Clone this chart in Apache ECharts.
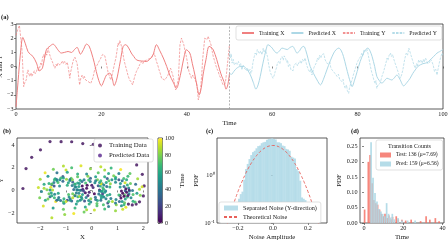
<!DOCTYPE html>
<html>
<head>
<meta charset="utf-8">
<script src="https://cdn.jsdelivr.net/npm/echarts@6.0.0/dist/echarts.min.js"></script>
<style>html,body{margin:0;padding:0;background:#fff}#chart{width:448px;height:252px}</style>
</head>
<body>
<div id="chart"></div>
<script>
// ---- panel (a): time series [time, value] ----
var trainX = [[0,-2.84],[0.5,-1.0],[1.0,0.8],[1.6,2.05],[2.2,1.6],[2.8,1.06],[3.4,0.85],[4.0,0.7],[4.8,0.24],[5.5,-0.3],[6.2,-0.1],[7.1,1.18],[8.0,1.45],[8.7,1.58],[9.3,1.4],[9.8,1.18],[10.6,0.95],[11.4,1.0],[12.2,1.06],[13.0,0.99],[13.7,1.2],[14.3,1.35],[15.1,0.87],[15.8,1.2],[16.5,1.58],[17.1,1.45],[17.7,0.95],[18.3,0.3],[18.8,-0.35],[19.4,-1.0],[20.0,-1.37],[20.6,-1.0],[21.2,-0.6],[22.0,-0.47],[22.5,-0.8],[23.0,-1.35],[23.5,-1.0],[23.9,-0.47],[24.5,0.5],[25.1,1.42],[25.7,1.54],[26.4,1.3],[27.0,0.95],[27.6,0.7],[28.2,0.47],[29.0,0.4],[29.8,0.38],[30.5,0.35],[31.3,0.5],[32.1,0.83],[32.9,1.54],[33.7,1.1],[34.5,0.6],[35.3,0.0],[36.0,-0.6],[36.8,-1.1],[37.6,-1.54],[38.2,-1.0],[38.75,-0.24],[39.3,0.6],[39.9,1.18],[40.7,0.95],[41.3,0.2],[41.9,-0.6],[42.4,-1.4],[42.9,-2.0],[43.4,-1.5],[43.8,-0.6],[44.5,0.5],[45.2,1.42],[45.7,1.35],[46.2,1.18],[47.0,0.5],[47.7,-0.24],[48.2,-0.7],[48.7,-1.06],[49.2,-1.6],[49.6,-1.3],[50.0,-0.5]];
var predX = [[50.0,-0.5],[50.5,-0.55],[51.0,-0.35],[51.7,-0.12],[52.5,0.0],[53.3,0.0],[54.1,-0.2],[54.9,-0.6],[55.6,-1.15],[56.2,-1.6],[56.7,-1.3],[57.2,-0.7],[57.6,-0.1],[58.0,0.47],[58.5,1.1],[59.0,1.54],[59.5,1.45],[60.0,1.3],[60.6,1.05],[61.1,0.95],[61.7,1.1],[62.3,1.3],[62.9,1.25],[63.5,1.2],[64.2,1.35],[64.8,1.42],[65.3,1.2],[65.8,0.95],[66.4,1.1],[66.9,1.35],[67.4,1.42],[67.9,1.1],[68.4,0.55],[68.9,0.0],[69.7,-0.5],[70.5,-0.95],[71.3,-1.3],[72.0,-0.9],[72.8,-0.24],[73.6,0.4],[74.4,0.95],[75.0,1.2],[75.6,1.3],[76.2,1.1],[76.7,0.7],[77.3,0.0],[77.9,-0.7],[78.3,-1.1],[78.7,-1.42],[79.3,-0.95],[79.9,-0.35],[80.6,0.35],[81.4,0.95],[81.9,1.2],[82.4,1.3],[82.9,1.1],[83.4,0.7],[84.0,0.0],[84.5,-0.7],[85.1,-1.0],[85.7,-1.18],[86.3,-1.0],[86.9,-0.83],[87.5,-0.9],[88.0,-0.95],[88.6,-0.8],[89.2,-0.6],[89.9,-0.9],[90.8,-1.37],[91.5,-1.15],[92.3,-0.83],[92.9,-0.5],[93.5,-0.24],[94.1,0.0],[94.7,0.12],[95.3,0.2],[95.9,0.24],[96.5,0.3],[97.0,0.47],[97.8,0.7],[98.6,0.95],[99.2,1.05],[100.0,1.2]];
var trainY = [[0,2.2],[0.4,2.6],[0.8,2.9],[1.1,3.0],[1.4,1.2],[1.8,-1.42],[2.1,-1.1],[2.4,-0.95],[2.6,-0.5],[2.8,-0.24],[3.0,-0.5],[3.2,-0.7],[3.5,-0.45],[3.7,-0.7],[4.0,-0.6],[4.3,-0.3],[4.5,-0.5],[4.8,-0.35],[5.1,-0.05],[5.3,-0.3],[5.5,-0.12],[5.8,0.25],[6.0,0.1],[6.2,0.6],[6.5,0.85],[6.7,0.6],[7.0,1.0],[7.2,0.8],[7.5,1.3],[7.7,1.05],[7.9,0.83],[8.2,0.55],[8.5,0.35],[8.8,0.1],[9.1,-0.12],[9.4,0.15],[9.6,0.0],[9.8,0.24],[10.1,0.35],[10.3,0.1],[10.6,0.12],[10.9,0.4],[11.1,0.2],[11.4,0.35],[11.7,0.15],[12.0,0.3],[12.2,0.0],[12.4,-0.4],[12.6,-0.83],[12.8,-0.4],[13.0,-0.12],[13.3,0.3],[13.5,0.5],[13.8,0.66],[14.0,0.45],[14.3,0.24],[14.6,-0.5],[14.9,-1.3],[15.2,-0.8],[15.5,-0.6],[15.8,-0.85],[16.0,-0.7],[16.3,-0.95],[16.6,-0.85],[16.9,-1.06],[17.2,-0.95],[17.5,-1.2],[17.7,-1.18],[18.0,-0.8],[18.2,-0.55],[18.4,-0.24],[18.7,-0.05],[19.0,0.1],[19.2,0.24],[19.5,0.4],[19.8,0.55],[20.0,0.7],[20.3,0.85],[20.5,0.95],[20.8,0.75],[21.0,0.47],[21.3,0.0],[21.6,-0.47],[21.9,-0.7],[22.2,-0.95],[22.5,-0.6],[22.7,-0.35],[23.0,0.1],[23.4,0.6],[23.7,1.2],[23.9,1.65],[24.1,1.5],[24.3,1.84],[24.6,1.55],[24.8,1.42],[25.0,1.0],[25.2,0.6],[25.5,0.2],[25.9,-0.24],[26.2,-0.6],[26.6,-0.95],[27.0,-1.1],[27.3,-1.3],[27.6,-0.95],[27.8,-0.7],[28.2,-0.35],[28.6,-0.12],[29.0,0.15],[29.4,0.35],[29.7,0.2],[30.0,0.4],[30.2,0.3],[30.6,0.45],[30.9,0.35],[31.2,0.55],[31.5,0.45],[31.7,0.6],[32.0,0.75],[32.3,0.95],[32.6,0.7],[32.9,0.35],[33.2,0.1],[33.5,-0.24],[33.8,-0.5],[34.1,-0.83],[34.5,-0.75],[34.8,-0.95],[35.2,-0.8],[35.6,-0.6],[35.9,-0.35],[36.2,-0.12],[36.5,-0.4],[36.8,-0.7],[37.1,-1.2],[37.4,-1.65],[37.7,-1.3],[38.0,-0.95],[38.2,0.2],[38.4,1.54],[38.6,1.8],[38.75,2.0],[39.0,1.8],[39.3,1.54],[39.6,1.1],[39.9,0.7],[40.2,0.2],[40.5,-0.35],[40.8,-0.6],[41.1,-0.83],[41.4,-0.6],[41.6,-0.7],[41.9,-0.9],[42.3,-1.18],[42.5,-1.7],[42.7,-2.36],[42.9,-2.1],[43.2,-1.65],[43.5,-0.6],[43.7,0.47],[44.0,1.4],[44.2,2.0],[44.5,2.05],[44.7,1.9],[45.0,2.13],[45.2,1.95],[45.4,2.0],[45.7,1.5],[46.0,1.0],[46.2,0.7],[46.6,0.3],[47.0,-0.12],[47.3,-0.3],[47.6,-0.6],[47.9,-0.8],[48.2,-1.06],[48.5,-1.3],[48.7,-1.42],[49.0,-1.2],[49.3,-0.5],[49.6,0.4],[50.0,1.54]];
var predY = [[50.0,1.0],[50.2,0.6],[50.4,0.9],[50.6,0.24],[50.9,0.5],[51.1,0.1],[51.3,0.0],[51.6,0.3],[51.8,0.15],[52.1,0.35],[52.4,0.05],[52.6,0.2],[52.9,-0.24],[53.2,0.1],[53.4,-0.1],[53.7,0.0],[54.0,-0.3],[54.2,-0.1],[54.5,-0.35],[54.8,-0.2],[55.0,-0.5],[55.2,-0.35],[55.5,0.3],[55.8,0.7],[56.0,0.95],[56.3,0.8],[56.5,1.2],[56.8,1.18],[57.0,0.9],[57.3,1.1],[57.6,0.83],[57.9,1.3],[58.1,1.0],[58.4,1.18],[58.7,0.9],[58.9,0.7],[59.2,0.1],[59.5,-0.35],[59.8,-0.6],[60.0,-0.5],[60.2,-0.83],[60.5,-0.6],[60.7,-0.35],[61.0,-0.1],[61.2,0.2],[61.5,0.35],[61.8,0.2],[62.0,0.55],[62.3,0.7],[62.6,0.45],[62.8,0.75],[63.1,0.6],[63.4,0.3],[63.6,0.45],[63.8,0.0],[64.1,0.15],[64.4,-0.24],[64.6,-0.1],[64.9,-0.3],[65.1,0.1],[65.4,0.0],[65.7,0.25],[65.9,0.05],[66.2,0.12],[66.5,0.4],[66.8,0.2],[67.1,0.5],[67.4,0.35],[67.7,0.6],[68.0,0.2],[68.2,0.0],[68.5,-0.24],[68.8,-0.4],[69.0,-0.2],[69.3,-0.6],[69.6,-0.3],[69.8,-0.05],[70.1,0.0],[70.4,0.3],[70.6,0.6],[70.9,0.45],[71.1,0.8],[71.4,0.6],[71.6,0.83],[71.9,0.7],[72.1,0.9],[72.4,0.47],[72.7,0.6],[72.9,0.2],[73.2,0.12],[73.5,0.3],[73.7,-0.05],[74.0,-0.24],[74.3,-0.1],[74.6,-0.45],[74.9,-0.35],[75.2,-0.7],[75.5,-0.55],[75.8,-0.9],[76.0,-0.8],[76.3,-1.06],[76.6,-0.9],[76.8,-1.3],[77.1,-1.54],[77.4,-1.3],[77.6,-1.7],[77.9,-1.9],[78.1,-1.5],[78.4,-1.2],[78.7,-0.95],[79.0,-0.6],[79.2,-0.4],[79.5,-0.12],[79.8,0.2],[80.0,0.1],[80.2,0.47],[80.5,0.35],[80.7,0.7],[81.0,0.95],[81.3,0.8],[81.5,1.2],[81.8,1.3],[82.0,1.05],[82.2,1.2],[82.4,0.95],[82.7,0.5],[83.0,0.0],[83.3,-0.4],[83.6,-0.7],[83.8,-0.95],[84.1,-1.2],[84.3,-1.0],[84.5,-1.54],[84.8,-1.3],[85.0,-1.4],[85.3,-1.18],[85.6,-0.8],[85.8,-0.6],[86.1,-0.35],[86.4,0.0],[86.6,0.2],[86.9,0.6],[87.1,0.45],[87.4,0.8],[87.7,0.95],[87.9,0.7],[88.2,0.85],[88.4,0.6],[88.7,0.3],[88.9,0.4],[89.2,-0.12],[89.5,-0.4],[89.7,-0.3],[90.0,-0.83],[90.3,-0.6],[90.6,-0.24],[90.9,0.3],[91.1,0.6],[91.4,0.95],[91.7,0.8],[92.0,1.3],[92.2,1.1],[92.5,0.8],[92.7,0.6],[93.0,0.3],[93.2,0.1],[93.5,-0.12],[93.8,0.2],[94.0,0.0],[94.3,0.47],[94.6,0.3],[94.8,0.45],[95.1,0.24],[95.4,0.5],[95.6,0.3],[95.9,0.6],[96.2,0.4],[96.4,0.2],[96.6,0.12],[96.9,0.3],[97.1,0.5],[97.4,0.35],[97.7,0.1],[98.0,-0.35],[98.3,-0.2],[98.6,-0.6],[98.9,-0.1],[99.2,0.35],[99.5,0.7],[99.8,0.95],[100.0,0.8]];
var splitTime = 50;

// ---- panel (b): phase-space scatter [x, y] and [x, y, time] ----
var trainingPts = [[-2.67,0.17],[-2.55,1.92],[-2.33,2.91],[-1.99,3.57],[-1.62,4.30],[-1.19,4.29],[-0.78,4.28],[-0.35,4.12],[0.06,4.05],[0.47,3.86],[0.87,3.6],[1.2,3.2],[1.47,2.74],[1.74,2.24],[1.96,1.42],[2.03,0.40],[2.00,-0.48],[1.85,-1.00],[1.72,-1.20],[1.57,-1.27],[1.42,-1.20]];
var predictedPts = [
  [-0.70,0.08,34],[-0.76,0.44,42],[-0.91,0.68,58],[-1.12,0.82,33],[-1.31,0.69,71],[-1.46,0.40,25],[-1.52,0.03,88],[-1.44,-0.34,47],[-1.28,-0.62,38],[-1.08,-0.72,63],[-0.88,-0.58,49],[-0.74,-0.30,77],
  [-0.61,0.31,52],[-0.74,0.74,30],[-0.98,0.99,84],[-1.24,0.95,46],[-1.47,0.70,41],[-1.59,0.28,95],[-1.57,-0.22,56],[-1.45,-0.64,68],[-1.21,-0.89,37],[-0.95,-0.86,22],[-0.74,-0.64,90],[-0.60,-0.22,44],
  [-0.47,0.02,61],[-0.55,0.66,59],[-0.80,1.07,73],[-1.12,1.22,28],[-1.42,1.03,55],[-1.66,0.61,64],[-1.74,0.07,80],[-1.62,-0.55,33],[-1.40,-0.97,99],[-1.08,-1.12,50],[-0.78,-0.93,34],[-0.54,-0.55,66],
  [-0.66,0.55,45],[-0.85,0.88,52],[-1.35,0.86,60],[-1.55,0.52,28],[-1.66,-0.30,75],[-1.30,-0.80,48],[-0.84,-0.75,39],[-0.66,-0.45,85],[-1.20,1.10,67],[-1.00,-0.98,92],
  [-0.58,0.05,48],[-0.65,0.57,66],[-0.84,0.96,39],[-1.10,1.10,57],[-1.36,0.96,44],[-1.55,0.57,72],[-1.62,0.05,51],[-1.55,-0.47,60],[-1.36,-0.86,36],[-1.10,-1.00,70],[-0.84,-0.86,53],[-0.65,-0.47,42],
  [0.30,0.05,5],[0.25,0.42,26],[0.12,0.68,48],[-0.06,0.78,41],[-0.24,0.66,70],[-0.37,0.40,2],[-0.42,0.02,36],[-0.36,-0.35,57],[-0.22,-0.62,45],[-0.04,-0.72,82],[0.14,-0.60,39],[0.27,-0.32,40],
  [0.46,0.10,65],[0.40,0.60,50],[0.22,0.95,78],[-0.05,1.08,31],[-0.30,0.95,44],[-0.48,0.62,53],[-0.55,0.06,43],[-0.47,-0.52,86],[-0.28,-0.92,24],[-0.04,-1.02,47],[0.22,-0.88,60],[0.42,-0.50,57],
  [0.38,-0.10,50],[0.33,0.40,61],[0.15,0.85,44],[-0.12,0.92,68],[-0.38,0.78,37],[-0.50,0.35,55],[-0.50,-0.25,46],[-0.38,-0.75,63],[-0.12,-0.88,52],[0.15,-0.80,40],[0.35,-0.45,57],
  [-0.20,0.20,3],[-0.10,-0.15,8],[0.05,0.25,12],[-0.25,-0.20,5],[0.10,-0.30,1],[-0.35,0.10,10],[0.00,0.45,6],[-0.15,-0.45,14],[-0.32,-0.05,22],[-0.18,0.45,2],
  [1.30,-0.02,29],[1.25,0.35,36],[1.11,0.62,54],[0.92,0.72,48],[0.72,0.60,83],[0.58,0.34,35],[0.54,-0.05,44],[0.60,-0.42,62],[0.74,-0.70,41],[0.94,-0.80,46],[1.13,-0.66,2],[1.27,-0.40,74],
  [1.43,0.22,46],[1.29,0.68,93],[1.05,0.93,27],[0.78,0.94,51],[0.56,0.70,58],[0.43,0.24,69],[0.42,-0.30,21],[0.55,-0.72,43],[0.80,-0.98,87],[1.07,-0.97,33],[1.30,-0.75,58],[1.44,-0.32,42],
  [1.58,0.00,40],[1.50,0.62,76],[1.24,1.05,69],[0.92,1.17,64],[0.60,1.04,30],[0.36,0.58,97],[0.30,-0.05,45],[0.37,-0.66,56],[0.62,-1.10,23],[0.95,-1.25,81],[1.27,-1.08,76],[1.52,-0.64,48],
  [1.46,-0.05,47],[1.38,0.47,62],[1.18,0.86,38],[0.92,1.00,55],[0.66,0.86,71],[0.47,0.47,45],[0.40,-0.05,58],[0.47,-0.57,49],[0.66,-0.96,67],[0.92,-1.10,41],[1.18,-0.96,53],[1.38,-0.57,64],
  [1.20,-0.25,1],[1.35,-0.15,4],[1.25,-0.50,2],[1.40,-0.45,7],[1.15,-0.05,3],[1.45,0.05,9],[1.32,0.15,5],[1.10,-0.45,8],
  [-0.45,0.90,58],[-0.45,-0.85,47],[0.35,0.85,66],[0.35,-0.85,38],[-0.55,1.20,74],[0.50,1.20,62],[-0.60,-1.20,55],[0.45,-1.25,70],
  [-0.95,0.45,62],[-1.25,0.40,49],[-1.30,-0.25,58],[-0.90,-0.35,71],[-0.75,0.95,80],[-1.45,0.95,65],[-1.70,-0.75,77],[-0.55,-0.95,59],
  [0.70,0.30,63],[1.10,0.30,52],[1.05,-0.40,68],[0.70,-0.35,57],[0.85,1.30,79],[1.35,0.95,61],[1.60,-0.35,72],[1.25,-1.25,66],
  [-0.15,1.25,81],[0.15,1.20,56],[-0.10,-1.20,64],[0.20,-1.15,73],[-0.65,0.30,46],[0.50,-0.15,54],[-0.40,-0.60,49],[0.30,0.70,60],
  [-1.85,0.20,87],[1.85,0.10,88],[-1.00,1.80,91],[0.50,1.80,85],[-0.20,-1.70,86],[1.20,-1.65,92],
  [-2.07,0.25,92],[-2.00,0.98,85],[-1.81,1.56,97],[-1.49,1.86,78],[-1.10,2.15,88],[-0.78,2.00,70],[-0.42,2.18,95],[-0.05,1.90,82],[0.35,2.08,90],[0.75,1.98,66],[1.12,1.85,99],[1.48,1.50,74],[1.78,1.02,86],[1.95,0.32,93],[1.88,-0.42,80],[1.68,-1.02,72],[1.32,-1.48,96],[0.92,-1.78,84],[0.50,-1.62,68],[0.10,-1.72,91],[-0.30,-1.90,77],[-0.70,-2.02,98],[-1.05,-2.12,83],[-1.55,-2.39,89],[-1.88,-1.36,94],[-2.02,-0.63,79],
  [-1.95,-0.10,45],[-1.85,0.55,60],[-1.70,1.25,52],[-1.35,1.55,38],[-0.95,1.60,57],[-0.55,1.45,62],[-0.20,1.45,48],[0.25,1.55,73],[0.65,1.50,59],[1.05,1.50,44],[1.40,1.25,67],[1.70,0.55,35],[1.75,-0.25,55],[1.60,-0.95,63],[1.15,-1.35,50],[0.65,-1.40,42],[0.20,-1.35,71],[-0.25,-1.45,58],[-0.65,-1.55,66],[-1.10,-1.65,75],[-1.50,-1.55,54],[-1.80,-0.85,61]
];
var timeTicks = [0, 20, 40, 60, 80, 100];
var viridis = ['#440154','#482878','#3e4989','#31688e','#26828e','#1f9e89','#35b779','#6ece58','#b5de2b','#fde725'];

// ---- panel (c): noise histogram [bin centre, density] and theoretical pdf ----
var noiseBinWidth = 0.01;
var noiseHist = [[-0.235,0.12],[-0.225,0.15],[-0.215,0.2],[-0.205,0.26],[-0.195,0.32],[-0.185,0.4],[-0.175,0.45],[-0.165,0.8],[-0.155,1.33],[-0.145,1.7],[-0.135,2.15],[-0.125,2.6],[-0.115,3.0],[-0.105,3.2],[-0.095,3.6],[-0.085,4.0],[-0.075,4.1],[-0.065,4.6],[-0.055,4.8],[-0.045,4.9],[-0.035,5.4],[-0.025,5.6],[-0.015,5.7],[-0.005,5.8],[0.005,5.6],[0.015,5.5],[0.025,4.8],[0.035,4.8],[0.045,4.6],[0.055,4.1],[0.065,4.0],[0.075,3.5],[0.085,3.4],[0.095,3.2],[0.105,2.4],[0.115,2.3],[0.125,2.2],[0.135,1.33],[0.145,1.2],[0.155,0.76],[0.165,0.34],[0.175,0.32],[0.185,0.3],[0.205,0.18]];
var theoryPdf = [[-0.30,0.028],[-0.28,0.054],[-0.26,0.098],[-0.24,0.171],[-0.22,0.284],[-0.20,0.452],[-0.18,0.687],[-0.16,1.0],[-0.14,1.40],[-0.12,1.86],[-0.10,2.37],[-0.08,2.89],[-0.06,3.38],[-0.04,3.77],[-0.02,4.03],[0,4.12],[0.02,4.03],[0.04,3.77],[0.06,3.38],[0.08,2.89],[0.10,2.37],[0.12,1.86],[0.14,1.40],[0.16,1.0],[0.18,0.687],[0.20,0.452],[0.22,0.284],[0.24,0.171],[0.26,0.098],[0.28,0.054],[0.30,0.028]];

// ---- panel (d): transition time histograms [time, density] ----
var testHist = [[0.3,0.044],[2.2,0.2],[3.1,0.222],[4.1,0.13],[5.0,0.075],[6.0,0.065],[6.9,0.06],[7.9,0.044],[8.8,0.03],[9.8,0.022],[10.7,0.03],[11.7,0.016],[12.6,0.025],[13.6,0.012],[14.5,0.02],[16.4,0.022],[17.4,0.012],[19.3,0.011],[21.2,0.008],[24.0,0.011],[28.8,0.006],[31.6,0.022],[33.5,0.011],[36.3,0.016],[38.2,0.006]];
var predHist = [[3.6,0.264],[4.6,0.148],[5.6,0.098],[6.6,0.07],[7.6,0.046],[8.6,0.038],[9.5,0.03],[10.5,0.022],[11.5,0.065],[12.5,0.03],[13.4,0.018],[14.4,0.03],[15.4,0.012],[17.3,0.016],[19.3,0.008],[22.2,0.008],[26.0,0.008]];

var FONT = 'Liberation Serif';
var RED = '#f08080', BLUE = '#add8e6';

function minus(v) { return String(v).replace('-', '\u2212'); }

function axis(o) {
    var base = {
        type: 'value',
        axisLine: { show: false },
        axisTick: { show: true, length: 2, lineStyle: { color: '#333', width: 0.6 } },
        axisLabel: { fontFamily: FONT, fontSize: 6.2, color: '#222', margin: 2.5, formatter: minus },
        splitLine: { show: false },
        nameLocation: 'middle',
        nameMoveOverlap: false,
        nameTextStyle: { fontFamily: FONT, fontSize: 6.8, color: '#222' }
    };
    for (var k in o) {
        if (typeof o[k] === 'object' && base[k] && !Array.isArray(o[k])) {
            for (var j in o[k]) base[k][j] = o[k][j];
        } else {
            base[k] = o[k];
        }
    }
    return base;
}

function gridBox(l, t, w, h) {
    return { left: l, top: t, width: w, height: h, show: true, borderColor: '#333', borderWidth: 0.8,
             backgroundColor: 'transparent', containLabel: false, outerBoundsMode: 'none' };
}

var legendBase = function (o) {
    var b = { backgroundColor: '#fff', borderColor: '#ccc', borderWidth: 0.6, borderRadius: 2,
              textStyle: { fontFamily: FONT, fontSize: 6.2, color: '#222' }, padding: [3, 4], itemGap: 3 };
    for (var k in o) b[k] = o[k];
    return b;
};

// line entries in a legend: show the line only, no marker
function lineItem(name) { return { name: name, itemStyle: { opacity: 0 } }; }

var titleStyle = { fontFamily: FONT, fontSize: 6.5, fontWeight: 'bold', color: '#111' };

var option = {
    animation: false,
    backgroundColor: '#fff',
    title: [
        { text: '(a)', left: 1, top: 14, padding: 0, textStyle: titleStyle },
        { text: '(b)', left: 3, top: 128, padding: 0, textStyle: titleStyle },
        { text: '(c)', left: 206, top: 128, padding: 0, textStyle: titleStyle },
        { text: '(d)', left: 351, top: 128, padding: 0, textStyle: titleStyle },
        { text: 'Transition Counts', left: 388, top: 143, padding: 0,
          textStyle: { fontFamily: FONT, fontSize: 6, fontWeight: 'normal', color: '#222' } }
    ],
    grid: [
        gridBox(16, 24, 427, 85),
        gridBox(17, 138, 131, 85),
        gridBox(158, 138, 4.5, 85),
        gridBox(217, 138, 110, 85),
        gridBox(360, 138, 84, 85)
    ],
    xAxis: [
        axis({ gridIndex: 0, min: 0, max: 100, interval: 20, name: 'Time', nameGap: 11 }),
        axis({ gridIndex: 1, min: -2.9, max: 2.18, name: 'X', nameGap: 11,
               axisLabel: { customValues: [-2, -1, 0, 1, 2] }, axisTick: { customValues: [-2, -1, 0, 1, 2] } }),
        axis({ gridIndex: 2, min: 0, max: 1, show: false }),
        axis({ gridIndex: 3, min: -0.32, max: 0.309, name: 'Noise Amplitude', nameGap: 11,
               axisLabel: { customValues: [-0.2, 0, 0.2], formatter: function (v) { return minus(v.toFixed(1)); } },
               axisTick: { customValues: [-0.2, 0, 0.2] } }),
        axis({ gridIndex: 4, min: -2.04, max: 40.7, name: 'Time', nameGap: 11,
               axisLabel: { customValues: [0, 20, 40] }, axisTick: { customValues: [0, 20, 40] } })
    ],
    yAxis: [
        axis({ gridIndex: 0, min: -3, max: 3, interval: 1, name: 'X and Y', nameGap: 12 }),
        axis({ gridIndex: 1, min: -2.86, max: 4.61, name: 'Y', nameGap: 12,
               axisLabel: { customValues: [-2, 0, 2, 4] }, axisTick: { customValues: [-2, 0, 2, 4] } }),
        axis({ gridIndex: 2, min: 0, max: 100, interval: 20, position: 'right', name: 'Time', nameGap: 16,
               axisTick: { customValues: timeTicks }, axisLabel: { customValues: timeTicks } }),
        axis({ gridIndex: 3, type: 'log', logBase: 10, min: 0.1, max: 5.9, name: 'PDF', nameGap: 17,
               axisLabel: { customValues: [0.1, 1], formatter: function (v) { return v < 0.5 ? '10\u207B\u00B9' : '10\u2070'; } },
               axisTick: { customValues: [0.1, 1] } }),
        axis({ gridIndex: 4, min: 0, max: 0.278, name: 'PDF', nameGap: 17,
               axisLabel: { customValues: [0, 0.05, 0.1, 0.15, 0.2, 0.25], formatter: function (v) { return v.toFixed(2); } },
               axisTick: { customValues: [0, 0.05, 0.1, 0.15, 0.2, 0.25] } })
    ],
    visualMap: [{
        type: 'continuous', min: 0, max: 100, dimension: 2, seriesIndex: 5,
        inRange: { color: viridis }, left: 158, top: 138, itemWidth: 4.5, itemHeight: 85,
        padding: 0, calculable: false, hoverLink: false, realtime: false
    }],
    legend: [
        legendBase({ orient: 'horizontal', left: 236, top: 26, itemWidth: 12, itemHeight: 4, itemGap: 6,
                     padding: [4, 5], textStyle: { fontFamily: FONT, fontSize: 5.8, color: '#222' },
                     data: [lineItem('Training X'), lineItem('Predicted X'), lineItem('Training Y'), lineItem('Predicted Y')] }),
        legendBase({ orient: 'vertical', left: 94, top: 139, itemWidth: 8, itemHeight: 4,
                     textStyle: { fontFamily: FONT, fontSize: 6.8, color: '#222' },
                     data: ['Training Data', 'Predicted Data'] }),
        legendBase({ orient: 'vertical', left: 219, top: 202, itemWidth: 14, itemHeight: 5,
                     data: [{ name: 'Separated Noise (Y-direction)', icon: 'rect' }, lineItem('Theoretical Noise')] }),
        legendBase({ orient: 'vertical', left: 376, top: 140, itemWidth: 11, itemHeight: 5,
                     padding: [12, 4, 3, 4], textStyle: { fontFamily: FONT, fontSize: 5.6, color: '#222' },
                     data: [{ name: 'Test: 136 (\u03bc=7.69)', icon: 'rect' }, { name: 'Pred: 159 (\u03bc=6.56)', icon: 'rect' }] })
    ],
    series: [
        { name: 'Training X', type: 'line', xAxisIndex: 0, yAxisIndex: 0, data: trainX, smooth: 0.3,
          symbol: 'none', lineStyle: { color: RED, width: 1 }, itemStyle: { color: RED },
          markLine: { silent: true, symbol: 'none', label: { show: false },
                      lineStyle: { color: '#999', type: [2, 1.5], width: 0.7 }, data: [{ xAxis: splitTime }] } },
        { name: 'Predicted X', type: 'line', xAxisIndex: 0, yAxisIndex: 0, data: predX, smooth: 0.3,
          symbol: 'none', lineStyle: { color: BLUE, width: 1 }, itemStyle: { color: BLUE } },
        { name: 'Training Y', type: 'line', xAxisIndex: 0, yAxisIndex: 0, data: trainY,
          symbol: 'none', lineStyle: { color: RED, width: 0.8, type: [2.5, 1.2], opacity: 0.85 }, itemStyle: { color: RED } },
        { name: 'Predicted Y', type: 'line', xAxisIndex: 0, yAxisIndex: 0, data: predY,
          symbol: 'none', lineStyle: { color: BLUE, width: 0.8, type: [2.5, 1.2], opacity: 0.9 }, itemStyle: { color: BLUE } },
        { name: 'Training Data', type: 'scatter', xAxisIndex: 1, yAxisIndex: 1, data: trainingPts,
          symbolSize: 3.2, itemStyle: { color: '#3b0a58' } },
        { name: 'Predicted Data', type: 'scatter', xAxisIndex: 1, yAxisIndex: 1, data: predictedPts,
          symbolSize: 3, itemStyle: { color: '#6a3d9a', opacity: 0.9 } },
        { name: 'Separated Noise (Y-direction)', type: 'custom', xAxisIndex: 3, yAxisIndex: 3, data: noiseHist,
          encode: { x: 0, y: 1 }, itemStyle: { color: BLUE, opacity: 0.85 },
          renderItem: function (params, api) {
              var x = api.value(0), v = api.value(1);
              var p1 = api.coord([x - noiseBinWidth / 2, v]);
              var p2 = api.coord([x + noiseBinWidth / 2, 0.1]);
              return { type: 'rect', shape: { x: p1[0], y: p1[1], width: p2[0] - p1[0] + 0.3, height: p2[1] - p1[1] },
                       style: api.style() };
          } },
        { name: 'Theoretical Noise', type: 'line', xAxisIndex: 3, yAxisIndex: 3, data: theoryPdf, smooth: true,
          symbol: 'none', lineStyle: { color: '#e8605a', width: 0.9, type: [3, 2] }, itemStyle: { color: '#e8605a' } },
        { name: 'Test: 136 (\u03bc=7.69)', type: 'bar', xAxisIndex: 4, yAxisIndex: 4, data: testHist,
          barWidth: 1.7, barGap: '-100%', itemStyle: { color: '#f4695c', opacity: 0.8 } },
        { name: 'Pred: 159 (\u03bc=6.56)', type: 'bar', xAxisIndex: 4, yAxisIndex: 4, data: predHist,
          barWidth: 1.7, barGap: '-100%', itemStyle: { color: BLUE, opacity: 0.9 } }
    ]
};

var myChart = echarts.init(document.getElementById('chart'));
myChart.setOption(option);
</script>
</body>
</html>
